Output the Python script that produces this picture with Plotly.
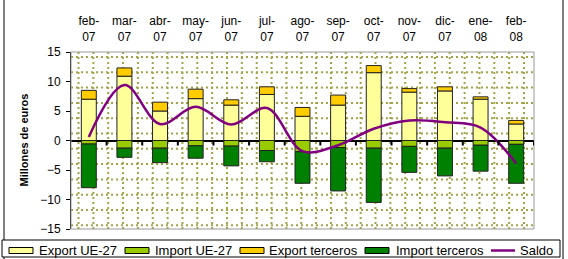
import plotly.graph_objects as go

# ---------------- data ----------------
categories = ["feb-07", "mar-07", "abr-07", "may-07", "jun-07", "jul-07", "ago-07",
              "sep-07", "oct-07", "nov-07", "dic-07", "ene-08", "feb-08"]
export_ue27 = [7.0, 10.9, 5.0, 7.1, 6.0, 7.8, 4.1, 6.0, 11.5, 8.2, 8.4, 7.0, 2.8]
import_ue27 = [-0.6, -1.3, -1.3, -0.9, -0.95, -1.7, -1.9, -1.2, -1.3, -1.0, -1.3, -0.8, -0.65]
export_terceros = [1.5, 1.4, 1.5, 1.6, 0.9, 1.3, 1.5, 1.7, 1.2, 0.6, 0.7, 0.4, 0.6]
import_terceros = [-7.4, -1.55, -2.45, -2.1, -3.35, -1.9, -5.35, -7.35, -9.2, -4.4, -4.7, -4.4, -6.6]
saldo = [0.6, 9.4, 2.8, 5.7, 2.7, 5.5, -1.8, -0.8, 2.0, 3.4, 3.1, 2.2, -3.9]
y_ticks = [-15, -10, -5, 0, 5, 10, 15]
series_names = ["Export UE-27", "Import UE-27", "Export terceros", "Import terceros", "Saldo"]
y_title = "Millones de euros"

# ---------------- style ----------------
W, H = 568, 259
L, R, T, B = 71, 34, 52, 30
PW, PH = W - L - R, H - T - B
FONT = "Liberation Sans, Arial, sans-serif"
colors = ["#FFFF99", "#99CC00", "#FFCC00", "#008000", "#800080"]
GRID = "#a3a348"

def xp(px):
    return (px - L) / PW

def yp(py):
    return (H - B - py) / PH

x = list(range(len(categories)))
fig = go.Figure()
bar_series = [export_ue27, import_ue27, export_terceros, import_terceros]
for name, vals, col in zip(series_names[:4], bar_series, colors[:4]):
    fig.add_trace(go.Bar(x=x, y=vals, name=name, width=0.42,
                         marker=dict(color=col, line=dict(color="#222222", width=1)),
                         showlegend=False))
fig.add_trace(go.Scatter(x=x, y=saldo, name=series_names[4], mode="lines",
                         line=dict(color=colors[4], width=2.5, shape="spline", smoothing=1),
                         showlegend=False))

shapes = []
# dotted pattern grid (background)
py = 57.0
while py < H - B - 1:
    shapes.append(dict(type="line", xref="paper", yref="paper", x0=0, x1=1, y0=yp(py), y1=yp(py),
                       line=dict(color=GRID, width=2, dash="2px,3px"), layer="below"))
    py += 15.3
px = 78.5
while px < L + PW - 2:
    shapes.append(dict(type="line", xref="paper", yref="paper", x0=xp(px), x1=xp(px), y0=0, y1=1,
                       line=dict(color=GRID, width=2, dash="2px,3px"), layer="below"))
    px += 14.85
# plot area border
shapes.append(dict(type="rect", xref="paper", yref="paper", x0=0, x1=1, y0=0, y1=1,
                   line=dict(color="#9a9a9a", width=1)))
# category boundary ticks on the zero line
for i in range(len(categories)):
    shapes.append(dict(type="line", xref="x", yref="y", ysizemode="pixel", yanchor=0,
                       x0=i + 0.5, x1=i + 0.5, y0=0, y1=-5,
                       line=dict(color="black", width=2)))
# outer chart border
shapes.append(dict(type="rect", xref="paper", yref="paper", x0=xp(4), x1=xp(563), y0=yp(262), y1=yp(-3),
                   line=dict(color="black", width=1)))
# legend box
shapes.append(dict(type="rect", xref="paper", yref="paper", x0=xp(2), x1=xp(560), y0=yp(257), y1=yp(240),
                   line=dict(color="black", width=1), fillcolor="white"))

annotations = []
leg_sym = [9, 125, 240, 365, 491]
leg_txt = [37, 153, 267, 394, 518]
for k, name in enumerate(series_names):
    if k < 4:
        shapes.append(dict(type="rect", xref="paper", yref="paper",
                           x0=xp(leg_sym[k]), x1=xp(leg_sym[k] + 24), y0=yp(253.5), y1=yp(247.5),
                           line=dict(color="black", width=1), fillcolor=colors[k]))
    else:
        shapes.append(dict(type="line", xref="paper", yref="paper",
                           x0=xp(leg_sym[k]), x1=xp(leg_sym[k] + 24), y0=yp(250.5), y1=yp(250.5),
                           line=dict(color=colors[k], width=2.5)))
    annotations.append(dict(text=name, xref="paper", yref="paper", x=xp(leg_txt[k]), y=yp(250.5),
                            xanchor="left", yanchor="middle", showarrow=False,
                            font=dict(family=FONT, size=13, color="black")))

annotations.append(dict(text="<b>" + y_title + "</b>", xref="paper", yref="paper",
                        x=xp(23), y=0.5, textangle=-90, showarrow=False,
                        xanchor="center", yanchor="middle",
                        font=dict(family=FONT, size=11, color="black")))

fig.update_layout(
    width=W, height=H, margin=dict(l=L, r=R, t=T, b=B, autoexpand=False),
    paper_bgcolor="white", plot_bgcolor="white",
    barmode="relative", bargap=0.5, showlegend=False,
    font=dict(family=FONT, size=12, color="black"),
    shapes=shapes, annotations=annotations,
    xaxis=dict(range=[-0.5, len(categories) - 0.5], side="top",
               tickvals=x, ticktext=[c.replace("-", "-<br>") for c in categories],
               ticks="", showgrid=False, zeroline=False, showline=False,
               tickfont=dict(family=FONT, size=12), ticklabelstandoff=8),
    yaxis=dict(range=[-15, 15], tickvals=y_ticks, ticks="outside", ticklen=4,
               tickcolor="black", showline=True, linecolor="black", linewidth=1,
               showgrid=False, zeroline=True, zerolinecolor="black", zerolinewidth=2,
               tickfont=dict(family=FONT, size=12), ticklabelstandoff=3),
)

fig.write_html("out.html", config={"displayModeBar": False},
               post_script="document.body.style.margin='0';document.body.style.overflow='hidden';")
